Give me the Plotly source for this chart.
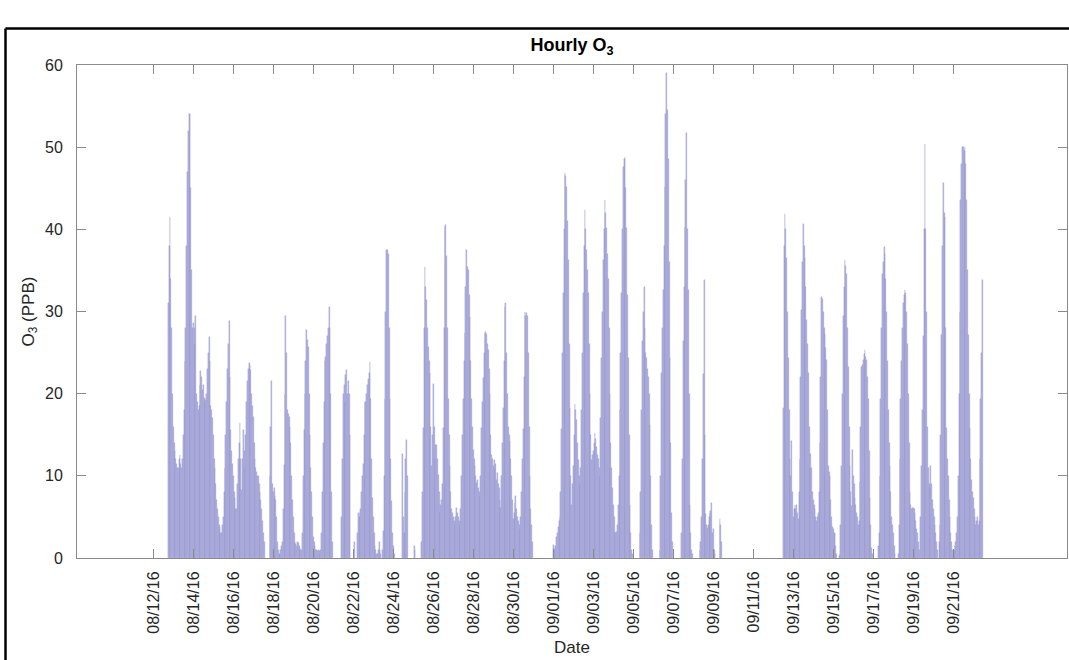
import pandas as pd
import plotly.graph_objects as go

N = None  # no measurement for that hour

# Hourly ozone (ppb), one list of 24 hours per day
aug12 = [N, N, N, N, N, N, N, N, N, N, N, N, N, N, N, N, N, N, 31, 38, 41.5, 34, 28, 20]
aug13 = [16, 14, 13, 12, 11.5, 11, 11, 12, 12.5, 11.5, 11, 12, 15, 18, 24, 28, 38, 47, 52, 54, 54, 45, 35, 28]
aug14 = [28.6, 28, 26, 29.4, 20, 19, 18, 18.5, 21, 22.7, 22, 20.4, 21, 19.5, 19, 19.2, 20, 23, 25, 26.9, 24, 18.5, 18, 17]
aug15 = [15, 12, 11, 9, 7, 6, 5, 4, 3.8, 3, 3, 4, 5, 8, 11, 15, 19, 23, 26, 28.8, 22, 15.6, 13, 11.5]
aug16 = [10, 8, 7.3, 6, 6, 9, 12, 14, 16.4, 12, 8.3, 12, 15.6, 13, 11, 15, 19, 21.5, 23, 23.7, 23.5, 22.9, 20, 18.5]
aug17 = [17.2, 14, 12, 11, 10.5, 10, 10, 9, 8, 7, 6, 4.5, 3, 2, N, N, N, N, N, N, 10, 16, 21.5, 9]
aug18 = [8, 8.5, 7.5, 7, 5, 1.9, 1, 0.5, 0.5, 1, 1.5, 2, 6, 11.3, 20, 29.4, 25, 18, 17.5, 17.2, 16, 14, 10, 7]
aug19 = [5, 3, 2, 1.7, 1.5, 2, 1.8, 1.5, 1.2, 1, 1, 3, 10, 15.6, 20, 24, 27.7, 26.5, 25.7, 20, 15, 11, 8, 5]
aug20 = [2.5, 2, 1.5, 1, 1, 0.8, 1, 0.8, 0.5, 1, 3, 8, 14, 19, 24, 24.5, 26, 27, 28, 30.5, 28, 20, 8, 2]
aug21 = [N, N, N, N, N, N, N, N, N, N, 5, 12, 20, 21, 19, 22.3, 22.9, 20, 21.6, 20, 15, N, N, N]
aug22 = [N, 2, N, N, N, 3, 5.5, 5, 5.5, 6, 8, 10, 11.5, 15, 19, 19, 20, 21, 21.8, 22.5, 23.8, 19.3, 12, 7.3]
aug23 = [5, 3, 1.5, 1, 0.5, 0.5, 1, 2, 1, 0.5, N, 1, 3.3, 10, 19.3, 30, 37.5, 37.5, 37, 28, 19.3, 12, 6.9, 3]
aug24 = [1.5, 0.5, N, N, N, N, N, N, N, N, N, 12.7, 5, 3, 8, 12, 14.4, 10, N, N, N, N, N, N]
aug25 = [N, 1.5, 1, N, N, N, N, N, N, N, 2, 8, 15.8, 28, 35.4, 33, 31.4, 28, 25.7, 24, 22.5, 16, 11.2, 15]
aug26 = [21.2, 16, 12, 13.8, 13.8, 12, 10.1, 8, 5.6, 6.5, 7, 9, 15.8, 28, 40.3, 40.5, 36.8, 28, 19.3, 15, 11.2, 8, 6, 5.5]
aug27 = [5, 4.5, 4, 5, 6.1, 5.5, 5, 4.5, 4, 6, 10, 15, 19.3, 24, 27.4, 33, 37.5, 35.4, 35, 32, 29.3, 24, 19.3, 16]
aug28 = [13.2, 12, 11.2, 10, 9.1, 9.5, 8.5, 8, 7.5, 10, 15.8, 19, 21.9, 25, 27.3, 27.5, 27.3, 26, 25.3, 23, 20, 15, 12.5, 12]
aug29 = [11.2, 11.9, 11, 11.5, 9.5, 10.3, 9, 8.5, 7, 6.1, 10, 14, 18.3, 24, 30.6, 31, 25, 20, 16, 15, 14.2, 12, 10, 7]
aug30 = [4.7, 5.5, 6.7, 7.5, 6, 5, 4.5, 4, 3.5, 5, 8, 12, 15.7, 22, 30, 29.5, 29.8, 29.5, 25, 16, 10, 6, 4, 2]
aug31 = [N, N, N, N, N, N, N, N, N, N, N, N, N, N, N, N, N, N, N, N, N, N, N, N]
sep01 = [1.6, 1, 1.2, 1.5, 2.5, 3, 3.8, 4.5, 5, 8, 15.7, 25, 32.2, 40, 46.8, 46.5, 45.2, 41, 36.3, 26, 18.3, 10, 6.4, 9]
sep02 = [11.2, 15, 18.8, 18, 16.8, 14, 11.9, 10, 9, 11, 18, 25, 32.2, 38, 42.3, 40, 37.5, 35, 32.2, 26, 20, 15, 11.9, 12.5]
sep03 = [13, 14, 15.2, 14.5, 13.5, 12.5, 12, 11, 10, 17, 24.3, 30, 36.3, 40, 43.6, 42, 40.2, 37, 34, 28, 20, 14, 11, 8.5]
sep04 = [6.4, 5, 3.2, 3, 3.2, 4, 6.4, 10, 18, 25, 32.2, 40, 47.6, 48.5, 48.8, 45, 40.2, 32, 24.3, 15, 6.4, 3, 1, 0.5]
sep05 = [N, N, N, N, N, N, N, N, 3, 8, 18, 26.4, 30, 33, 28, 25, 24.3, 23, 22, 20, 16.2, 10, 4, 1]
sep06 = [N, N, N, N, N, N, N, N, 1, 10, 22.5, 28, 32.6, 38, 45.2, 54, 59, 54.5, 48.5, 36, 24.3, 14, 5.5, 2]
sep07 = [N, N, N, N, N, N, N, N, N, N, 3, 12, 26.4, 33, 40.3, 46, 51.7, 40, 32.6, 20, 6.4, 3, 1, 0.5]
sep08 = [N, N, N, N, N, N, N, N, 1, 2, 5, 12, 22.4, 33.8, 15, 5.4, 4, 3.7, 4, 5, 5.5, 5.7, 6.7, 3]
sep09 = [3.5, 1, 0.5, N, N, N, N, N, 4.7, 4, 2, N, N, N, N, N, N, N, N, N, N, N, N, N]
sep10 = [N, N, N, N, N, N, N, N, N, N, N, N, N, N, N, N, N, N, N, N, N, N, N, N]
sep11 = [N, N, N, N, N, N, N, N, N, N, N, N, N, N, N, N, N, N, N, N, N, N, N, N]
sep12 = [N, N, N, N, N, N, N, N, N, N, N, N, 18.2, 38, 41.9, 40, 36.5, 30, 24.3, 18, 12, 10, 14.2, 8]
sep13 = [5, 6, 6.5, 6, 6.5, 5.5, 4.8, 8, 12, 22, 30.2, 36, 40.7, 38, 36.5, 33, 29, 26, 22.5, 16, 11, 12.7, 11, 8]
sep14 = [7, 6.5, 6, 5, 4.5, 5, 5.5, 8, 14, 22, 31.8, 31.5, 30, 28, 27.3, 25.5, 24.1, 18, 11.2, 10.5, 10, 7, 5, 3.8]
sep15 = [3.5, 3, 3, 1.5, 0.5, N, N, 0.3, 0.5, 4, 11.2, 20, 29.4, 33, 36.3, 35.5, 34.6, 28, 23.3, 16, 11.2, 8, 6.3, 13.2]
sep16 = [10, 9, 7.3, 6.5, 5.5, 5, 4, 4.5, 9.3, 16, 23.3, 23.5, 24.1, 24.8, 25.3, 24.5, 24.1, 22, 19.3, 13, 7.3, 4, 1.2, 0.5]
sep17 = [N, N, N, N, N, N, 1.5, 3, 10, 19.3, 28, 34.6, 36, 37.9, 37, 34, 30, 24, 18, 14, 11.2, 8, 5, 4]
sep18 = [3, 1.5, 0.5, N, N, N, 0.5, 4, 12, 19.3, 24, 28, 31, 32, 32.6, 32.3, 30, 26, 20, 14, 8, 6.5, 6, 6.1]
sep19 = [6.1, 6, 5.5, 4.5, 3.5, 3, 2, 1, N, 5, 11.2, 18, 27, 40, 50.4, 40, 30, 16, 11, 9, 8.5, 11.2, 9, 7]
sep20 = [6, 5, 4, 3, 2, 1, N, 2, 4, 15, 27.2, 38, 45.6, 42, 41.5, 28, 15.8, 12, 10, 7, 5, 3, 2, 1]
sep21 = [0.5, 1, 1.5, 2, 3, 5, 10, 20, 30, 43.6, 48, 50, 50, 49.5, 50, 48, 43.6, 35, 27.2, 20, 15.8, 12, 9.5, 8]
sep22 = [7.3, 6, 5, 4, 4.5, 5, 4, 4.5, 12, 19.3, 25, 33.8, N, N, N, N, N, N, N, N, N, N, N, N]

days = [aug12, aug13, aug14, aug15, aug16, aug17, aug18, aug19, aug20, aug21,
        aug22, aug23, aug24, aug25, aug26, aug27, aug28, aug29, aug30, aug31,
        sep01, sep02, sep03, sep04, sep05, sep06, sep07, sep08, sep09, sep10,
        sep11, sep12, sep13, sep14, sep15, sep16, sep17, sep18, sep19, sep20,
        sep21, sep22]

first_hour = "2016-08-12 00:00"
tick_dates = ["2016-08-12", "2016-08-14", "2016-08-16", "2016-08-18", "2016-08-20",
              "2016-08-22", "2016-08-24", "2016-08-26", "2016-08-28", "2016-08-30",
              "2016-09-01", "2016-09-03", "2016-09-05", "2016-09-07", "2016-09-09",
              "2016-09-11", "2016-09-13", "2016-09-15", "2016-09-17", "2016-09-19",
              "2016-09-21"]
tick_labels = ["08/12/16", "08/14/16", "08/16/16", "08/18/16", "08/20/16",
               "08/22/16", "08/24/16", "08/26/16", "08/28/16", "08/30/16",
               "09/01/16", "09/03/16", "09/05/16", "09/07/16", "09/09/16",
               "09/11/16", "09/13/16", "09/15/16", "09/17/16", "09/19/16",
               "09/21/16"]

o3 = [v for day in days for v in day]
hours = pd.date_range(first_hour, periods=len(o3), freq="h")

FONT = "Liberation Sans, Arial, Helvetica, sans-serif"
AXIS_GREY = "#8a8a8a"
TEXT_GREY = "#262626"

fig = go.Figure(
    go.Bar(
        x=hours,
        y=o3,
        width=3600000,
        marker=dict(color="rgb(184,184,228)",
                    line=dict(color="rgb(138,138,198)", width=0.3)),
        hoverinfo="x+y",
    )
)

fig.update_layout(
    width=1069,
    height=660,
    margin=dict(l=77, r=2, t=65, b=102),
    paper_bgcolor="white",
    plot_bgcolor="white",
    showlegend=False,
    bargap=0,
    font=dict(family=FONT, size=16, color=TEXT_GREY),
    title=dict(
        text="<b>Hourly O<sub>3</sub></b>",
        x=0.5, xref="paper", xanchor="center",
        y=1 - 45 / 660, yref="container", yanchor="middle",
        font=dict(family=FONT, size=18, color="black"),
    ),
)

fig.update_xaxes(
    type="date",
    range=["2016-08-08 04:26", "2016-09-26 16:26"],
    tickmode="array",
    tickvals=tick_dates,
    ticktext=tick_labels,
    tickangle=-90,
    ticks="inside",
    ticklen=9,
    tickcolor=AXIS_GREY,
    showline=True,
    linecolor=AXIS_GREY,
    linewidth=1,
    mirror="ticks",
    showgrid=False,
    zeroline=False,
    ticklabelstandoff=6,
    tickfont=dict(family=FONT, size=16, color=TEXT_GREY),
    title=dict(text="Date", standoff=8,
               font=dict(family=FONT, size=17, color=TEXT_GREY)),
)

fig.update_yaxes(
    range=[0, 60],
    tickmode="linear",
    tick0=0,
    dtick=10,
    ticks="inside",
    ticklen=9,
    tickcolor=AXIS_GREY,
    showline=True,
    linecolor=AXIS_GREY,
    linewidth=1,
    mirror="ticks",
    showgrid=False,
    zeroline=False,
    ticklabelstandoff=10,
    tickfont=dict(family=FONT, size=16, color=TEXT_GREY),
    title=dict(text="O<sub>3</sub> (PPB)", standoff=6,
               font=dict(family=FONT, size=17, color=TEXT_GREY)),
)

# black border framing the figure on the left and top
frame_left = (5.5 - 77) / 990
frame_top = (558 - 28.5) / 493
frame_bottom = (558 - 662) / 493
fig.add_shape(type="line", xref="paper", yref="paper",
              x0=frame_left, x1=frame_left, y0=frame_bottom, y1=frame_top,
              line=dict(color="black", width=2.5))
fig.add_shape(type="line", xref="paper", yref="paper",
              x0=frame_left, x1=1.01, y0=frame_top, y1=frame_top,
              line=dict(color="black", width=2.5))

fig.write_html("out.html")
